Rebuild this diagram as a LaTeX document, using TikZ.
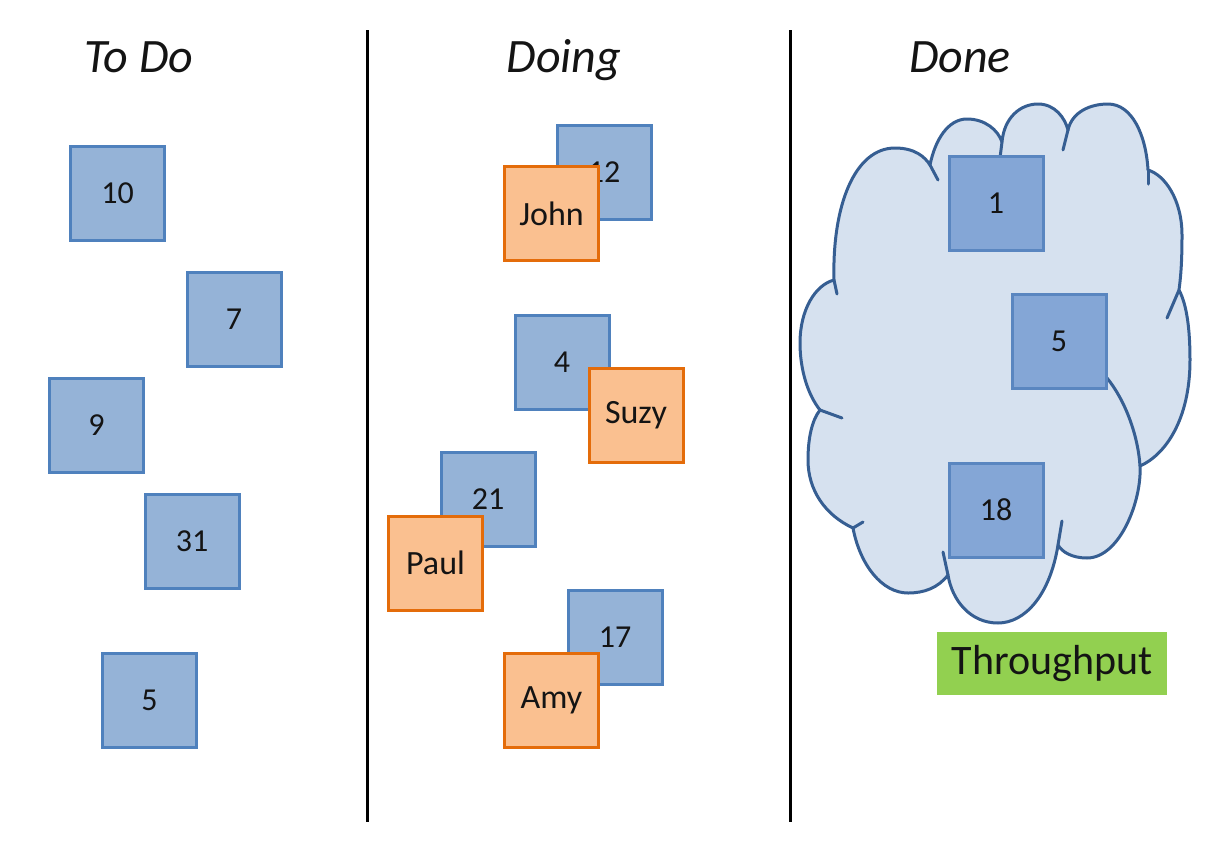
\documentclass[tikz,border=0pt]{standalone}
\usepackage{fontspec}
\setmainfont{Carlito}
\definecolor{cardline}{HTML}{4F81BD}
\definecolor{cardfill}{HTML}{95B3D7}
\definecolor{orangeline}{HTML}{E46C0A}
\definecolor{orangefill}{HTML}{FAC090}
\definecolor{doneline}{HTML}{5A86C0}
\definecolor{donefill}{HTML}{84A6D6}
\definecolor{cloudfill}{HTML}{D6E1EF}
\definecolor{cloudedge}{HTML}{365E92}
\definecolor{greenfill}{HTML}{92D050}
\definecolor{textc}{HTML}{141414}
\begin{document}
\begin{tikzpicture}[x=1pt,y=-1pt,
  card/.style={draw=cardline, fill=cardfill, line width=3pt, minimum width=94pt, minimum height=94pt, inner sep=0pt, font=\fontsize{32}{32}\selectfont, text=textc},
  person/.style={card, draw=orangeline, fill=orangefill, font=\fontsize{34}{34}\selectfont},
  donecard/.style={card, draw=doneline, fill=donefill},
  heading/.style={anchor=base, font=\fontsize{48}{48}\selectfont\itshape, text=textc},
  divider/.style={line width=3pt, black},
  cloudline/.style={draw=cloudedge, line width=3pt, line cap=round, line join=round},
  label/.style={fill=greenfill, minimum width=230pt, minimum height=63pt, inner sep=0pt, font=\fontsize{42}{42}\selectfont, text=textc}]
\useasboundingbox (0,0) rectangle (1232,847);

% headings
\node[heading] (htodo) at (139,72) {To Do};
\node[heading] (hdoing) at (564,72) {Doing};
\node[heading] (hdone) at (960,72) {Done};

% dividers
\draw[divider] (367,30) -- (367,822);
\draw[divider] (790,30) -- (790,822);

% To Do column
\node[card] (t10) at (117.5,193) {10};
\node[card] (t7) at (234,319) {7};
\node[card] (t9) at (96.5,425) {9};
\node[card] (t31) at (192,541) {31};
\node[card] (t5) at (149.5,700) {5};

% Doing column
\node[card] (d12) at (604,172) {12};
\node[person] (john) at (551.5,213.5) {John};
\node[card] (d4) at (562,362) {4};
\node[person] (suzy) at (636,415) {Suzy};
\node[card] (d21) at (488,499) {21};
\node[person] (paul) at (435.5,563) {Paul};
\node[card] (d17) at (615,637) {17};
\node[person] (amy) at (551.5,700) {Amy};

% Done cloud
\path[fill=cloudfill, cloudline]
  (834,280) .. controls (832,205) and (855,148) .. (895,148)
            .. controls (915,148) and (925,157) .. (930,165)
            .. controls (935,140) and (948,119) .. (967,119)
            .. controls (985,119) and (998,130) .. (1002,142)
            .. controls (1004,118) and (1020,104) .. (1038,104)
            .. controls (1055,104) and (1065,118) .. (1068,130)
            .. controls (1072,112) and (1090,104) .. (1108,104)
            .. controls (1132,104) and (1146,135) .. (1148,170)
            .. controls (1165,175) and (1182,200) .. (1182,235)
            .. controls (1182,260) and (1181,275) .. (1179,290)
            .. controls (1187,305) and (1190,330) .. (1190,360)
            .. controls (1190,420) and (1165,455) .. (1140,466)
            .. controls (1142,500) and (1120,558) .. (1087,558)
            .. controls (1072,558) and (1062,552) .. (1058,545)
            .. controls (1050,595) and (1025,623) .. (998,623)
            .. controls (970,623) and (952,600) .. (948,575)
            .. controls (938,588) and (924,593) .. (908,593)
            .. controls (882,593) and (860,565) .. (853,528)
            .. controls (825,515) and (808,490) .. (808,460)
            .. controls (808,438) and (812,420) .. (820,410)
            .. controls (808,395) and (800,370) .. (800,343)
            .. controls (800,310) and (815,285) .. (834,280) -- cycle;
% inner strokes of the cloud
\draw[cloudline] (834,280) -- (837,294);
\draw[cloudline] (930,165) -- (938,180);
\draw[cloudline] (1002,142) -- (1000,158);
\draw[cloudline] (1068,130) -- (1063,150);
\draw[cloudline] (1148,170) -- (1148,184);
\draw[cloudline] (1179,290) -- (1167,318);
\draw[cloudline] (1107,378) .. controls (1125,400) and (1138,435) .. (1140,466);
\draw[cloudline] (1058,545) -- (1062,521);
\draw[cloudline] (948,575) -- (943,552);
\draw[cloudline] (853,528) -- (863,522);
\draw[cloudline] (820,410) -- (842,418);

\node[donecard] (c1) at (996,203) {1};
\node[donecard] (c5) at (1059,341) {5};
\node[donecard] (c18) at (996,510) {18};

\node[label] (tp) at (1052,663.5) {Throughput};
\end{tikzpicture}
\end{document}
